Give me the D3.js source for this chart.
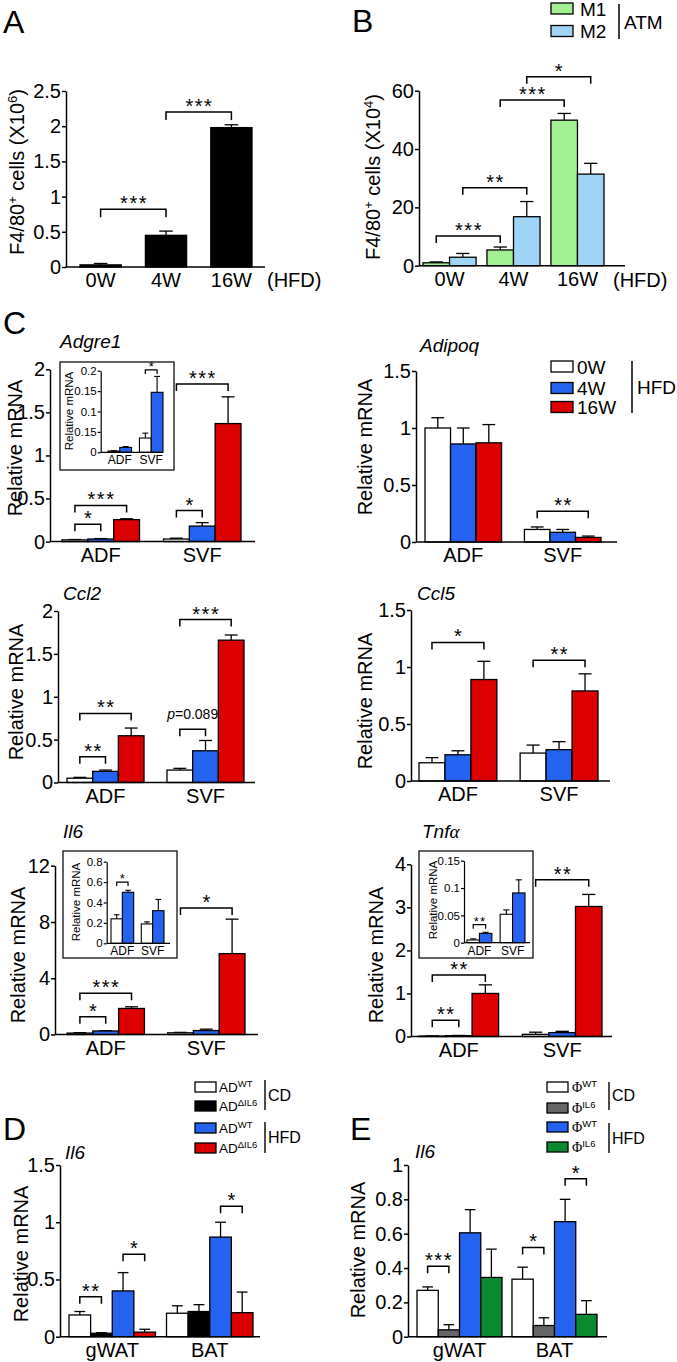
<!DOCTYPE html>
<html><head><meta charset="utf-8">
<script src="https://cdn.jsdelivr.net/npm/d3@7"></script>
<style>body{margin:0;background:#fff}svg{display:block}</style>
</head><body>
<script>
// ---------------- DATA ----------------
// Panel A
const aGroups = ["0W", "4W", "16W"];
const aMean = [0.03, 0.45, 1.98];
const aSem = [0.02, 0.06, 0.04];
const aTicks = [0, 0.5, 1, 1.5, 2, 2.5];
const aTickLabels = ["0", "0.5", "1", "1.5", "2", "2.5"];
const aStats = [
  {g1: "0W", s1: 0, g2: "4W", s2: 0, y: 0.82, t: "***"},
  {g1: "4W", s1: 0, g2: "16W", s2: 0, y: 2.2, t: "***"}
];
// Panel B
const bGroups = ["0W", "4W", "16W"];
const bSeries = ["M1", "M2"];
const bM1 = [1.0, 5.4, 49.9];
const bM1Sem = [0.3, 1.0, 2.3];
const bM2 = [2.9, 16.8, 31.4];
const bM2Sem = [1.3, 5.2, 3.7];
const bTicks = [0, 20, 40, 60];
const bTickLabels = ["0", "20", "40", "60"];
const bStats = [
  {g1: "0W", s1: 0, g2: "4W", s2: 0, y: 10.2, t: "***"},
  {g1: "0W", s1: 1, g2: "4W", s2: 1, y: 26.7, t: "**"},
  {g1: "4W", s1: 0, g2: "16W", s2: 0, y: 56.8, t: "***"},
  {g1: "4W", s1: 1, g2: "16W", s2: 1, y: 64.8, t: "*"}
];
// Panel C (groups ADF/SVF, series 0W/4W/16W HFD)
const cGroups = ["ADF", "SVF"];
const cSeries = ["0W", "4W", "16W"];
// Adgre1  [series][group]
const adgre1Mean = [[0.02, 0.03], [0.03, 0.18], [0.255, 1.37]];
const adgre1Sem = [[0.004, 0.01], [0.005, 0.04], [0.01, 0.31]];
const adgre1Ticks = [0, 0.5, 1, 1.5, 2];
const adgre1TickLabels = ["0", "0.5", "1", "1.5", "2"];
const adgre1Stats = [
  {g1: "ADF", s1: 0, g2: "ADF", s2: 1, y: 0.2, t: "*"},
  {g1: "ADF", s1: 0, g2: "ADF", s2: 2, y: 0.42, t: "***"},
  {g1: "SVF", s1: 0, g2: "SVF", s2: 1, y: 0.36, t: "*"},
  {g1: "SVF", s1: 0, g2: "SVF", s2: 2, y: 1.83, t: "***"}
];
const adgre1InsetMean = [[0.003, 0.035], [0.012, 0.147]];
const adgre1InsetSem = [[0.001, 0.012], [0.002, 0.039]];
const adgre1InsetTicks = [0, 0.05, 0.1, 0.15, 0.2];
const adgre1InsetTickLabels = ["0", "0.15", "0.1", "0.15", "0.2"];
const adgre1InsetStats = [{g1: "SVF", s1: 0, g2: "SVF", s2: 1, y: 0.202, t: "*"}];
// Adipoq
const adipoqMean = [[1.0, 0.11], [0.86, 0.085], [0.87, 0.04]];
const adipoqSem = [[0.09, 0.022], [0.14, 0.025], [0.16, 0.012]];
const adipoqTicks = [0, 0.5, 1, 1.5];
const adipoqTickLabels = ["0", "0.5", "1", "1.5"];
const adipoqStats = [{g1: "SVF", s1: 0, g2: "SVF", s2: 2, y: 0.27, t: "**"}];
// Ccl2
const ccl2Mean = [[0.05, 0.145], [0.13, 0.37], [0.545, 1.66]];
const ccl2Sem = [[0.01, 0.02], [0.015, 0.12], [0.09, 0.06]];
const ccl2Ticks = [0, 0.5, 1, 1.5, 2];
const ccl2TickLabels = ["0", "0.5", "1", "1.5", "2"];
const ccl2Stats = [
  {g1: "ADF", s1: 0, g2: "ADF", s2: 1, y: 0.3, t: "**"},
  {g1: "ADF", s1: 0, g2: "ADF", s2: 2, y: 0.805, t: "**"},
  {g1: "SVF", s1: 0, g2: "SVF", s2: 1, y: 0.62, t: "p=0.089", p: true},
  {g1: "SVF", s1: 0, g2: "SVF", s2: 2, y: 1.9, t: "***"}
];
// Ccl5
const ccl5Mean = [[0.16, 0.245], [0.23, 0.275], [0.89, 0.79]];
const ccl5Sem = [[0.045, 0.07], [0.035, 0.07], [0.16, 0.15]];
const ccl5Ticks = [0, 0.5, 1, 1.5];
const ccl5TickLabels = ["0", "0.5", "1", "1.5"];
const ccl5Stats = [
  {g1: "ADF", s1: 0, g2: "ADF", s2: 2, y: 1.215, t: "*"},
  {g1: "SVF", s1: 0, g2: "SVF", s2: 2, y: 1.06, t: "**"}
];
// Il6
const il6Mean = [[0.1, 0.12], [0.25, 0.28], [1.85, 5.75]];
const il6Sem = [[0.03, 0.03], [0.02, 0.1], [0.12, 2.45]];
const il6Ticks = [0, 4, 8, 12];
const il6TickLabels = ["0", "4", "8", "12"];
const il6Stats = [
  {g1: "ADF", s1: 0, g2: "ADF", s2: 1, y: 1.27, t: "*"},
  {g1: "ADF", s1: 0, g2: "ADF", s2: 2, y: 2.93, t: "***"},
  {g1: "SVF", s1: 0, g2: "SVF", s2: 2, y: 9.0, t: "*"}
];
const il6InsetMean = [[0.24, 0.19], [0.5, 0.32]];
const il6InsetSem = [[0.04, 0.02], [0.02, 0.11]];
const il6InsetTicks = [0, 0.2, 0.4, 0.6, 0.8];
const il6InsetTickLabels = ["0", "0.2", "0.4", "0.6", "0.8"];
const il6InsetStats = [{g1: "ADF", s1: 0, g2: "ADF", s2: 1, y: 0.6, t: "*"}];
// Tnfa
const tnfMean = [[0.01, 0.05], [0.02, 0.09], [1.0, 3.02]];
const tnfSem = [[0.005, 0.05], [0.005, 0.03], [0.2, 0.28]];
const tnfTicks = [0, 1, 2, 3, 4];
const tnfTickLabels = ["0", "1", "2", "3", "4"];
const tnfStats = [
  {g1: "ADF", s1: 0, g2: "ADF", s2: 1, y: 0.38, t: "**"},
  {g1: "ADF", s1: 0, g2: "ADF", s2: 2, y: 1.43, t: "**"},
  {g1: "SVF", s1: 0, g2: "SVF", s2: 2, y: 3.64, t: "**"}
];
const tnfInsetMean = [[0.005, 0.052], [0.017, 0.091]];
const tnfInsetSem = [[0.002, 0.008], [0.002, 0.024]];
const tnfInsetTicks = [0, 0.05, 0.1, 0.15];
const tnfInsetTickLabels = ["0", "0.05", "0.1", "0.15"];
const tnfInsetStats = [{g1: "ADF", s1: 0, g2: "ADF", s2: 1, y: 0.033, t: "**"}];
// Panel D
const dGroups = ["gWAT", "BAT"];
const dSeries = ["WT CD", "dIL6 CD", "WT HFD", "dIL6 HFD"];
const dMean = [[0.19, 0.205], [0.03, 0.22], [0.40, 0.87], [0.04, 0.21]];
const dSem = [[0.03, 0.065], [0.005, 0.06], [0.16, 0.13], [0.025, 0.18]];
const dTicks = [0, 0.5, 1, 1.5];
const dTickLabels = ["0", "0.5", "1", "1.5"];
const dStats = [
  {g1: "gWAT", s1: 0, g2: "gWAT", s2: 1, y: 0.35, t: "**"},
  {g1: "gWAT", s1: 2, g2: "gWAT", s2: 3, y: 0.72, t: "*"},
  {g1: "BAT", s1: 2, g2: "BAT", s2: 3, y: 1.14, t: "*"}
];
// Panel E
const eGroups = ["gWAT", "BAT"];
const eSeries = ["WT CD", "IL6 CD", "WT HFD", "IL6 HFD"];
const eMean = [[0.27, 0.335], [0.04, 0.065], [0.605, 0.67], [0.345, 0.13]];
const eSem = [[0.02, 0.07], [0.03, 0.045], [0.135, 0.13], [0.165, 0.08]];
const eTicks = [0, 0.2, 0.4, 0.6, 0.8, 1];
const eTickLabels = ["0", "0.2", "0.4", "0.6", "0.8", "1"];
const eStats = [
  {g1: "gWAT", s1: 0, g2: "gWAT", s2: 1, y: 0.41, t: "***"},
  {g1: "BAT", s1: 0, g2: "BAT", s2: 1, y: 0.52, t: "*"},
  {g1: "BAT", s1: 2, g2: "BAT", s2: 3, y: 0.92, t: "*"}
];

// ---------------- STYLE ----------------
const FONT = "'Liberation Sans', Arial, Helvetica, sans-serif";
const SERIF = "'Liberation Serif', 'Times New Roman', serif";
const WHITE = "#ffffff", BLUE = "#2462f0", RED = "#dd0000", BLACK = "#000000",
      GRAY = "#666666", GREEN = "#0a8a2e", LGREEN = "#a3f094", LBLUE = "#9fd4f6";
const cColors = [WHITE, BLUE, RED];

const svg = d3.select("body").append("svg").attr("width", 677).attr("height", 1362)
  .attr("font-family", FONT);

function richText(parent, x, y, parts, o = {}) {
  const t = parent.append("text").attr("x", x).attr("y", y)
    .attr("font-family", o.family || FONT).attr("font-size", o.size || 20)
    .attr("text-anchor", o.anchor || "start").attr("fill", "#000");
  if (o.rotate) t.attr("transform", `rotate(-90 ${x} ${y})`);
  if (o.italic) t.attr("font-style", "italic");
  let shift = 0;
  parts.forEach(p => {
    const ts = t.append("tspan").text(p.t);
    const target = p.sup ? -(o.supShift || 7) : 0;
    if (target !== shift) { ts.attr("dy", target - shift); shift = target; }
    if (p.size) ts.attr("font-size", p.size);
    if (p.italic) ts.attr("font-style", "italic");
    if (p.family) ts.attr("font-family", p.family);
  });
  return t;
}

function barChart(c) {
  const g = svg.append("g");
  const sw = c.sw || 1.3;
  if (c.box) {
    g.append("rect").attr("x", c.box[0]).attr("y", c.box[1]).attr("width", c.box[2] - c.box[0])
      .attr("height", c.box[3] - c.box[1]).attr("fill", "#fff").attr("stroke", "#222").attr("stroke-width", 1.4);
  }
  const y = d3.scaleLinear().domain([0, c.yMax]).range([c.y0, c.yTop]);
  const x0 = d3.scaleBand().domain(c.groups).range(c.barRange).paddingInner(c.pad).paddingOuter(0);
  const x1 = d3.scaleBand().domain(c.series).range([0, x0.bandwidth()]);
  const bw = x1.bandwidth();
  const cxOf = (gr, si) => x0(gr) + x1(c.series[si]) + bw / 2;
  c.series.forEach((s, si) => {
    c.groups.forEach((gr, gi) => {
      const v = c.values[si][gi], e = c.errors[si][gi];
      const cx = cxOf(gr, si);
      const capW = bw * (c.cap || 0.5);
      g.append("line").attr("x1", cx).attr("x2", cx).attr("y1", y(v)).attr("y2", y(v + e))
        .attr("stroke", "#000").attr("stroke-width", sw);
      g.append("line").attr("x1", cx - capW / 2).attr("x2", cx + capW / 2).attr("y1", y(v + e)).attr("y2", y(v + e))
        .attr("stroke", "#000").attr("stroke-width", sw);
      g.append("rect").attr("x", x0(gr) + x1(s)).attr("y", y(v)).attr("width", bw)
        .attr("height", Math.max(0.5, c.y0 - y(v))).attr("fill", c.colors[si])
        .attr("stroke", "#000").attr("stroke-width", sw);
    });
  });
  // y axis
  const ax = d3.axisLeft(y).tickValues(c.ticks).tickFormat((d, i) => c.tickLabels[i])
    .tickSize(c.tickLen || 4).tickSizeOuter(0).tickPadding(c.tickPad || 1);
  const ag = g.append("g").attr("transform", `translate(${c.axisX},0)`).call(ax);
  ag.attr("font-family", FONT).attr("font-size", c.tickFont || 20);
  ag.selectAll("path.domain").attr("stroke-width", c.axisW || 1.5);
  ag.selectAll(".tick line").attr("stroke-width", c.axisW || 1.5);
  ag.selectAll(".tick text").attr("fill", "#000");
  // x axis line
  g.append("line").attr("x1", c.axisX).attr("x2", c.axisEnd).attr("y1", c.y0).attr("y2", c.y0)
    .attr("stroke", "#000").attr("stroke-width", c.axisW || 1.5);
  // group labels
  c.groups.forEach(gr => {
    g.append("text").attr("x", x0(gr) + x0.bandwidth() / 2).attr("y", c.y0 + (c.labelDy || 20))
      .attr("text-anchor", "middle").attr("font-size", c.labelFont || 20).text(c.groupLabels ? c.groupLabels[c.groups.indexOf(gr)] : gr);
  });
  // brackets
  const leg = c.leg || 7;
  (c.stats || []).forEach(b => {
    const xa = cxOf(b.g1, b.s1), xb = cxOf(b.g2, b.s2), yb = y(b.y);
    g.append("path").attr("d", `M${xa},${yb + leg}V${yb}H${xb}V${yb + leg}`)
      .attr("fill", "none").attr("stroke", "#000").attr("stroke-width", c.bracketW || 1.5);
    if (b.p) {
      richText(g, (xa + xb) / 2, yb - 10, [{t: "p", italic: true}, {t: "=0.089"}], {size: 14, anchor: "middle"});
    } else {
      g.append("text").attr("x", (xa + xb) / 2 + (c.starSpace || 1.5) / 2).attr("y", yb + (c.starDy == null ? 1 : c.starDy))
        .attr("text-anchor", "middle").attr("font-size", c.starFont || 20)
        .attr("letter-spacing", c.starSpace || 1.5).text(b.t);
    }
  });
  // y label
  if (c.ylabel) {
    richText(g, c.ylabel.x, c.ylabel.y, c.ylabel.parts, {rotate: true, anchor: "middle", size: c.ylabel.size || 20, supShift: c.ylabel.supShift});
  }
  // title
  if (c.title) richText(g, c.title.x, c.title.y, c.title.parts, {size: c.title.size || 19, italic: true});
  return g;
}

// ---------------- PANEL LETTERS ----------------
[["A", 3, 33], ["B", 352, 32], ["C", 3, 334], ["D", 3, 1140], ["E", 350, 1140]].forEach(([t, x, y]) => {
  svg.append("text").attr("x", x).attr("y", y).attr("font-size", 32).text(t);
});

// ---------------- PANEL A ----------------
barChart({
  groups: aGroups, series: ["cells"], values: [aMean], errors: [aSem], colors: [BLACK],
  yMax: 2.5, y0: 267, yTop: 91, axisX: 66, axisEnd: 265, barRange: [80, 252], pad: 0.37,
  ticks: aTicks, tickLabels: aTickLabels, stats: aStats, cap: 0.33, leg: 8,
  ylabel: {x: 24, y: 172, parts: [{t: "F4/80"}, {t: "+", sup: true, size: 13}, {t: " cells (X10"}, {t: "6", sup: true, size: 13}, {t: ")"}]}
});
svg.append("text").attr("x", 267).attr("y", 287).attr("font-size", 20).text("(HFD)");

// ---------------- PANEL B ----------------
barChart({
  groups: bGroups, series: bSeries, values: [bM1, bM2], errors: [bM1Sem, bM2Sem], colors: [LGREEN, LBLUE],
  yMax: 60, y0: 265.7, yTop: 90.7, axisX: 419, axisEnd: 625, barRange: [423, 604], pad: 0.17,
  ticks: bTicks, tickLabels: bTickLabels, stats: bStats, cap: 0.5, leg: 7,
  ylabel: {x: 380, y: 177, parts: [{t: "F4/80"}, {t: "+", sup: true, size: 13}, {t: " cells (X10"}, {t: "4", sup: true, size: 13}, {t: ")"}]}
});
svg.append("text").attr("x", 613).attr("y", 287).attr("font-size", 20).text("(HFD)");
// legend B
bSeries.forEach((s, i) => {
  const yc = [8.5, 31][i];
  svg.append("rect").attr("x", 551).attr("y", yc - 5.5).attr("width", 22).attr("height", 11)
    .attr("fill", [LGREEN, LBLUE][i]).attr("stroke", "#000").attr("stroke-width", 1.3);
  svg.append("text").attr("x", 580).attr("y", yc + 7).attr("font-size", 19).text(s);
});
svg.append("line").attr("x1", 619).attr("x2", 619).attr("y1", 4).attr("y2", 39).attr("stroke", "#000").attr("stroke-width", 1.5);
svg.append("text").attr("x", 624).attr("y", 29).attr("font-size", 19).text("ATM");

// ---------------- PANEL C ----------------
const relY = (x, y) => ({x, y, parts: [{t: "Relative mRNA"}]});
barChart({
  groups: cGroups, series: cSeries, values: adgre1Mean, errors: adgre1Sem, colors: cColors,
  yMax: 2, y0: 541.6, yTop: 369.3, axisX: 50, axisEnd: 255, barRange: [62, 241], pad: 0.236,
  ticks: adgre1Ticks, tickLabels: adgre1TickLabels, stats: adgre1Stats,
  ylabel: relY(22, 448), title: {x: 60, y: 348, parts: [{t: "Adgre1"}]}
});
barChart({
  groups: cGroups, series: cSeries.slice(0, 2), values: adgre1InsetMean, errors: adgre1InsetSem, colors: cColors,
  box: [60, 362, 174, 470],
  yMax: 0.2, y0: 452.3, yTop: 370.7, axisX: 100.7, axisEnd: 163, barRange: [108, 163], pad: 0.25,
  ticks: adgre1InsetTicks, tickLabels: adgre1InsetTickLabels, stats: adgre1InsetStats,
  tickFont: 11.5, tickLen: 3, tickPad: 1, labelFont: 12, labelDy: 12, leg: 4, starFont: 13, starSpace: 1, sw: 1.1, axisW: 1.2, bracketW: 1.2,
  ylabel: {x: 73, y: 411, size: 11.5, parts: [{t: "Relative mRNA"}]}
});
barChart({
  groups: cGroups, series: cSeries, values: adipoqMean, errors: adipoqSem, colors: cColors,
  yMax: 1.5, y0: 542, yTop: 371, axisX: 416, axisEnd: 617, barRange: [425, 601], pad: 0.23,
  ticks: adipoqTicks, tickLabels: adipoqTickLabels, stats: adipoqStats,
  ylabel: relY(372, 447), title: {x: 420, y: 352, parts: [{t: "Adipoq"}]}
});
// legend C
cSeries.forEach((s, i) => {
  const yc = [366.5, 388, 407][i];
  svg.append("rect").attr("x", 551).attr("y", yc - 5.5).attr("width", 22).attr("height", 11)
    .attr("fill", cColors[i]).attr("stroke", "#000").attr("stroke-width", 1.3);
  svg.append("text").attr("x", 577).attr("y", yc + 7).attr("font-size", 19).text(s);
});
svg.append("line").attr("x1", 632).attr("x2", 632).attr("y1", 361).attr("y2", 413).attr("stroke", "#000").attr("stroke-width", 1.5);
svg.append("text").attr("x", 637).attr("y", 394).attr("font-size", 19).text("HFD");

barChart({
  groups: cGroups, series: cSeries, values: ccl2Mean, errors: ccl2Sem, colors: cColors,
  yMax: 2, y0: 782.5, yTop: 611, axisX: 58, axisEnd: 255, barRange: [67, 244], pad: 0.23,
  ticks: ccl2Ticks, tickLabels: ccl2TickLabels, stats: ccl2Stats,
  ylabel: relY(23, 692), title: {x: 63, y: 600, parts: [{t: "Ccl2"}]}
});
barChart({
  groups: cGroups, series: cSeries, values: ccl5Mean, errors: ccl5Sem, colors: cColors,
  yMax: 1.5, y0: 781, yTop: 610, axisX: 411, axisEnd: 610, barRange: [419, 598], pad: 0.23,
  ticks: ccl5Ticks, tickLabels: ccl5TickLabels, stats: ccl5Stats,
  ylabel: relY(372, 701), title: {x: 417, y: 600, parts: [{t: "Ccl5"}]}
});
barChart({
  groups: cGroups, series: cSeries, values: il6Mean, errors: il6Sem, colors: cColors,
  yMax: 12, y0: 1034.5, yTop: 865.7, axisX: 55, axisEnd: 258, barRange: [67, 245], pad: 0.23,
  ticks: il6Ticks, tickLabels: il6TickLabels, stats: il6Stats,
  ylabel: relY(25, 955), title: {x: 63, y: 838, parts: [{t: "Il6"}]}
});
barChart({
  groups: cGroups, series: cSeries.slice(0, 2), values: il6InsetMean, errors: il6InsetSem, colors: cColors,
  box: [63, 851, 177, 958],
  yMax: 0.8, y0: 943.3, yTop: 861.7, axisX: 106.7, axisEnd: 170, barRange: [111, 164], pad: 0.25,
  ticks: il6InsetTicks, tickLabels: il6InsetTickLabels, stats: il6InsetStats,
  tickFont: 11.5, tickLen: 3, tickPad: 1, labelFont: 12, labelDy: 12, leg: 4, starFont: 13, starSpace: 1, sw: 1.1, axisW: 1.2, bracketW: 1.2,
  ylabel: {x: 80, y: 902, size: 11.5, parts: [{t: "Relative mRNA"}]}
});
barChart({
  groups: cGroups, series: cSeries, values: tnfMean, errors: tnfSem, colors: cColors,
  yMax: 4, y0: 1036.5, yTop: 864.3, axisX: 411, axisEnd: 612, barRange: [419, 602], pad: 0.23,
  ticks: tnfTicks, tickLabels: tnfTickLabels, stats: tnfStats,
  ylabel: relY(383, 955), title: {x: 422, y: 838, parts: [{t: "Tnf"}, {t: "α", family: SERIF}]}
});
barChart({
  groups: cGroups, series: cSeries.slice(0, 2), values: tnfInsetMean, errors: tnfInsetSem, colors: cColors,
  box: [419, 851, 533, 958],
  yMax: 0.15, y0: 942.7, yTop: 860.7, axisX: 464, axisEnd: 530, barRange: [467, 525], pad: 0.25,
  ticks: tnfInsetTicks, tickLabels: tnfInsetTickLabels, stats: tnfInsetStats,
  tickFont: 11.5, tickLen: 3, tickPad: 1, labelFont: 12, labelDy: 12, leg: 4, starFont: 13, starSpace: 1, sw: 1.1, axisW: 1.2, bracketW: 1.2,
  ylabel: {x: 437, y: 900, size: 11.5, parts: [{t: "Relative mRNA"}]}
});

// ---------------- PANEL D ----------------
const dColors = [WHITE, BLACK, BLUE, RED];
barChart({
  groups: dGroups, series: dSeries, values: dMean, errors: dSem, colors: dColors,
  yMax: 1.5, y0: 1336.7, yTop: 1165, axisX: 60, axisEnd: 260, barRange: [69, 253], pad: 0.113,
  ticks: dTicks, tickLabels: dTickLabels, stats: dStats,
  ylabel: relY(28, 1254), title: {x: 65, y: 1159, parts: [{t: "Il6"}]}
});
const dSup = ["WT", "ΔIL6", "WT", "ΔIL6"];
[1087, 1106, 1128, 1148].forEach((yc, i) => {
  svg.append("rect").attr("x", 195).attr("y", yc - 5).attr("width", 21).attr("height", 10)
    .attr("fill", dColors[i]).attr("stroke", "#000").attr("stroke-width", 1.3);
  richText(svg, 219, yc + 5, [{t: "AD"}, {t: dSup[i], sup: true, size: 9.5}], {size: 13.5, supShift: 5});
});
svg.append("line").attr("x1", 265).attr("x2", 265).attr("y1", 1080).attr("y2", 1110).attr("stroke", "#000").attr("stroke-width", 1.4);
svg.append("line").attr("x1", 265).attr("x2", 265).attr("y1", 1122).attr("y2", 1153).attr("stroke", "#000").attr("stroke-width", 1.4);
svg.append("text").attr("x", 268).attr("y", 1101).attr("font-size", 16).text("CD");
svg.append("text").attr("x", 268).attr("y", 1143).attr("font-size", 16).text("HFD");

// ---------------- PANEL E ----------------
const eColors = [WHITE, GRAY, BLUE, GREEN];
barChart({
  groups: eGroups, series: eSeries, values: eMean, errors: eSem, colors: eColors,
  yMax: 1, y0: 1336.7, yTop: 1165, axisX: 408, axisEnd: 607, barRange: [417, 597], pad: 0.105,
  ticks: eTicks, tickLabels: eTickLabels, stats: eStats,
  ylabel: relY(365, 1250), title: {x: 415, y: 1158, parts: [{t: "Il6"}]}
});
const eSup = ["WT", "IL6", "WT", "IL6"];
[1087, 1108, 1127, 1147].forEach((yc, i) => {
  svg.append("rect").attr("x", 547).attr("y", yc - 5).attr("width", 21).attr("height", 10)
    .attr("fill", eColors[i]).attr("stroke", "#000").attr("stroke-width", 1.3);
  richText(svg, 572, yc + 5, [{t: "Φ", family: SERIF}, {t: eSup[i], sup: true, size: 9.5}], {size: 14, supShift: 5});
});
svg.append("line").attr("x1", 609).attr("x2", 609).attr("y1", 1082).attr("y2", 1110).attr("stroke", "#000").attr("stroke-width", 1.4);
svg.append("line").attr("x1", 609).attr("x2", 609).attr("y1", 1123).attr("y2", 1153).attr("stroke", "#000").attr("stroke-width", 1.4);
svg.append("text").attr("x", 612).attr("y", 1101).attr("font-size", 16).text("CD");
svg.append("text").attr("x", 612).attr("y", 1144).attr("font-size", 16).text("HFD");
</script>
</body></html>
